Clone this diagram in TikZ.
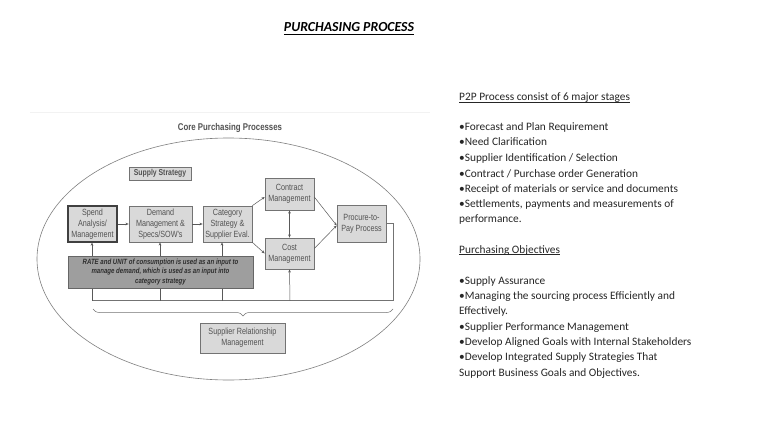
\documentclass[tikz,border=0pt]{standalone}
\usepackage{fontspec}
\setmainfont{Carlito}
\newfontfamily\dfont[FakeStretch=0.8]{Liberation Sans}
\usetikzlibrary{decorations.pathreplacing,arrows.meta}
\newcommand\myul[2][-1.7pt]{\setbox0\hbox{#2}\rlap{\rule[#1]{\wd0}{0.6pt}}\box0}
\begin{document}
\begin{tikzpicture}[x=1pt,y=-1pt,
  box/.style={draw=black!55, fill=black!15, line width=0.6pt, align=center,
    font=\dfont\fontsize{9}{11}\selectfont, text=black!68, inner sep=0.5pt},
  arr/.style={-{Stealth[length=3.2pt,width=2.6pt]}, draw=black!65, line width=0.5pt},
  conn/.style={draw=black!55, line width=0.5pt},
  body/.style={anchor=base west, inner sep=0pt, font=\fontsize{11.35}{13}\selectfont, text=black!85}]
\useasboundingbox (0,0) rectangle (768,433);
\fill[white] (0,0) rectangle (768,433);
% title
\node[anchor=base, inner sep=0pt, font=\bfseries\itshape\fontsize{13.8}{16}\selectfont] (title) at (349,32) {\myul[-2.4pt]{PURCHASING PROCESS}};
% diagram
\draw[black!5, line width=1pt] (30,113) -- (430,113);
\node[font=\dfont\bfseries\fontsize{9.8}{11}\selectfont, text=black!68] (core) at (230,128) {Core Purchasing Processes};
\draw[black!50, line width=0.6pt] (228.5,259) ellipse [x radius=191.5pt, y radius=121pt];
\node[box, font=\dfont\bfseries\fontsize{8.6}{10}\selectfont, minimum width=62pt, minimum height=13pt] (supply) at (160,173.5) {Supply Strategy};
\node[box, draw=black!75, line width=1.1pt, minimum width=49pt, minimum height=36pt] (spend) at (92.5,224) {Spend\\Analysis/\\Management};
\node[box, minimum width=63pt, minimum height=36pt] (demand) at (160.5,224) {Demand\\Management \&\\Specs/SOW's};
\node[box, minimum width=49pt, minimum height=36pt] (category) at (227.5,224) {Category\\Strategy \&\\Supplier Eval.};
\node[box, minimum width=49pt, minimum height=32pt] (contract) at (289.5,194) {Contract\\Management};
\node[box, minimum width=49pt, minimum height=31pt] (cost) at (289.5,253.5) {Cost\\Management};
\node[box, minimum width=49pt, minimum height=37pt] (procure) at (361.5,223.5) {Procure-to-\\Pay Process};
\coordinate (b1) at (92,300.5);
\coordinate (b2) at (160,300.5);
\coordinate (b3) at (222,300.5);
\coordinate (b4) at (290,300.5);
\coordinate (b5) at (393,300.5);
\draw[conn] (b1) -- (b5) |- (procure.east);
\draw[arr] (b1) -- (b1 |- spend.south);
\draw[arr] (b2) -- (b2 |- demand.south);
\draw[arr] (b3) -- (b3 |- category.south);
\draw[arr] (b4) -- (cost.south);
\node[box, fill=black!38, draw=black!60, font=\dfont\bfseries\itshape\fontsize{7.6}{9.5}\selectfont, text=black!82, minimum width=185pt, minimum height=32pt] (rate) at (160.5,272) {RATE and UNIT of consumption is used as an input to\\manage demand, which is used as an input into\\category strategy};
\draw[arr] (spend) -- (demand);
\draw[arr] (demand) -- (category);
\draw[arr] (category.north east) -- ([yshift=-3pt]contract.west);
\draw[arr] (category.south east) -- (cost.west);
\draw[arr, {Stealth[length=3.2pt,width=2.6pt]}-{Stealth[length=3.2pt,width=2.6pt]}] (contract) -- (cost);
\draw[arr] ([yshift=-3pt]contract.east) -- ([yshift=-2pt]procure.west);
\draw[arr] ([yshift=5pt]cost.east) -- ([yshift=-2pt]procure.west);
\draw[conn, decorate, decoration={brace, mirror, amplitude=7pt}] (93,309) -- (393,309);
\node[box, minimum width=85pt, minimum height=30pt] (srm) at (242.5,338) {Supplier Relationship\\Management};
% right text
\node[body] (h1) at (459,101) {\myul{P2P Process consist of 6 major stages}};
\node[body] (l1) at (459,131) {•Forecast and Plan Requirement};
\node[body] (l2) at (459,146) {•Need Clarification};
\node[body] (l3) at (459,161) {•Supplier Identification / Selection};
\node[body] (l4) at (459,177) {•Contract / Purchase order Generation};
\node[body] (l5) at (459,192) {•Receipt of materials or service and documents};
\node[body] (l6) at (459,207) {•Settlements, payments and measurements of};
\node[body] (l7) at (459,222) {performance.};
\node[body] (h2) at (459,253) {\myul{Purchasing Objectives}};
\node[body] (m1) at (459,284) {•Supply Assurance};
\node[body] (m2) at (459,299) {•Managing the sourcing process Efficiently and};
\node[body] (m3) at (459,314) {Effectively.};
\node[body] (m4) at (459,330) {•Supplier Performance Management};
\node[body] (m5) at (459,345) {•Develop Aligned Goals with Internal Stakeholders};
\node[body] (m6) at (459,360) {•Develop Integrated Supply Strategies That};
\node[body] (m7) at (459,376) {Support Business Goals and Objectives.};
\end{tikzpicture}
\end{document}
